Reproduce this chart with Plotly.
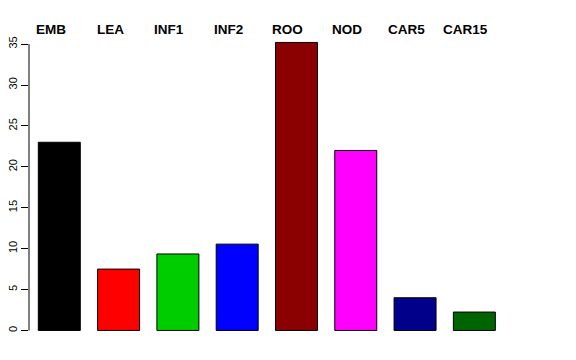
import plotly.graph_objects as go

categories = ["EMB", "LEA", "INF1", "INF2", "ROO", "NOD", "CAR5", "CAR15"]
values = [23.0, 7.5, 9.35, 10.55, 35.2, 22.0, 4.0, 2.25]
colors = ["#000000", "#FF0000", "#00CD00", "#0000FF", "#8B0000", "#FF00FF", "#00008B", "#006400"]
yticks = [0, 5, 10, 15, 20, 25, 30, 35]

xpos = list(range(len(categories)))

fig = go.Figure()
fig.add_trace(go.Bar(
    x=xpos, y=values, width=0.708,
    marker=dict(color=colors, line=dict(color="#000000", width=1)),
    hoverinfo="skip",
))

for i, c in enumerate(categories):
    fig.add_annotation(x=i - 0.143, y=1.0064, xref="x", yref="paper", text="<b>%s</b>" % c,
                       showarrow=False, xanchor="center", yanchor="middle",
                       font=dict(family="Liberation Sans", size=13.5, color="#000000"))

fig.add_shape(type="line", xref="paper", yref="y", x0=0, x1=0, y0=0, y1=35,
              line=dict(color="#000000", width=1))

fig.update_layout(
    width=576, height=360,
    margin=dict(l=29, r=72, t=31, b=18, autoexpand=False),
    paper_bgcolor="white", plot_bgcolor="white",
    showlegend=False,
    font=dict(family="Liberation Sans", color="#000000"),
    xaxis=dict(range=[-0.511, 7.5], visible=False, fixedrange=True),
    yaxis=dict(range=[-1.41, 36.6], tickvals=yticks, ticktext=[str(v) for v in yticks],
               ticks="outside", ticklen=7, tickcolor="#000000", tickwidth=1,
               tickangle=-90, tickfont=dict(size=11, family="Liberation Sans"),
               showgrid=False, zeroline=False, showline=False, automargin=False),
)

fig.write_html("out.html")
